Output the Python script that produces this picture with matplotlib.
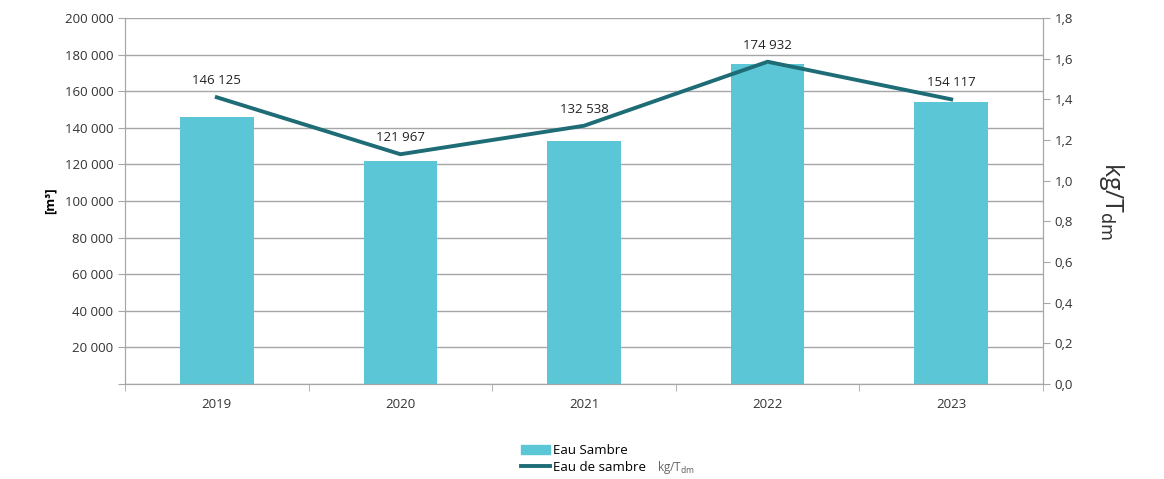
import matplotlib.pyplot as plt
from matplotlib.patches import Patch
from matplotlib.lines import Line2D
from matplotlib.ticker import FuncFormatter

plt.rcParams['font.family'] = ['Open Sans', 'DejaVu Sans']

# Données
annees = ["2019", "2020", "2021", "2022", "2023"]
volumes = [146125, 121967, 132538, 174932, 154117]
ratio = [1.41, 1.13, 1.27, 1.585, 1.40]

couleur_barre = "#5BC6D6"
couleur_ligne = "#1E6C76"
gris = "#A6A6A6"

fig = plt.figure(figsize=(11.64, 4.79), dpi=100)
ax = fig.add_axes([125 / 1164, 1 - 384 / 479, (1043 - 125) / 1164, (384 - 18) / 479])

x = list(range(len(annees)))
ax.bar(x, volumes, width=0.4, color=couleur_barre, zorder=2)
ax.set_xlim(-0.5, len(annees) - 0.5)
ax.set_ylim(0, 200000)
ax.set_yticks(range(0, 200001, 20000))
ax.yaxis.set_major_formatter(FuncFormatter(
    lambda v, p: "" if v == 0 else f"{int(v):,}".replace(",", " ")))
ax.grid(axis="y", color=gris, linewidth=1, zorder=0)
ax.set_xticks(x)
ax.set_xticklabels(annees)
ax.set_xticks([i + 0.5 for i in range(-1, len(annees))], minor=True)
ax.tick_params(axis="x", which="major", length=0, pad=10, labelsize=9.5, colors="#333333")
ax.tick_params(axis="x", which="minor", length=5, color=gris)
ax.tick_params(axis="y", length=5, color=gris, labelsize=9.5, labelcolor="#333333")
ax.spines["top"].set_visible(False)
for s in ["left", "bottom", "right"]:
    ax.spines[s].set_color(gris)
ax.set_ylabel("[m³]", fontweight="bold", fontsize=9.5, labelpad=6)

ax2 = ax.twinx()
ax2.plot(x, ratio, color=couleur_ligne, linewidth=2.8, zorder=3)
ax2.set_ylim(0, 1.8)
ax2.set_yticks([i / 10 for i in range(0, 19, 2)])
ax2.yaxis.set_major_formatter(FuncFormatter(lambda v, p: f"{v:.1f}".replace(".", ",")))
ax2.tick_params(axis="y", length=5, color=gris, labelsize=9.5, labelcolor="#333333")
ax2.spines["top"].set_visible(False)
for s in ["left", "bottom", "right"]:
    ax2.spines[s].set_color(gris)
ax2.set_ylabel(r"kg/T$_{\mathrm{dm}}$", fontsize=18, rotation=270, labelpad=38, color="#333333")

# Étiquettes des valeurs
for xi, v, r in zip(x, volumes, ratio):
    ax2.annotate(f"{v:,}".replace(",", " "), (xi, r), xytext=(0, 12),
                 textcoords="offset points", ha="center", va="center",
                 fontsize=9.5, color="#222222")

# Légende
handles = [Patch(color=couleur_barre), Line2D([0], [0], color=couleur_ligne, linewidth=2.8)]
fig.legend(handles, ["Eau Sambre", "Eau de sambre"], loc="upper left",
           bbox_to_anchor=(509 / 1164, 1 - 432 / 479), frameon=False,
           fontsize=9.5, handlelength=2.2, handletextpad=0.2, labelspacing=0.3)
fig.text(657 / 1164, 1 - 467 / 479, r"kg/T$_{\mathrm{dm}}$", fontsize=8.5,
         color="#666666", va="center")

plt.savefig("out.png", dpi=100)
